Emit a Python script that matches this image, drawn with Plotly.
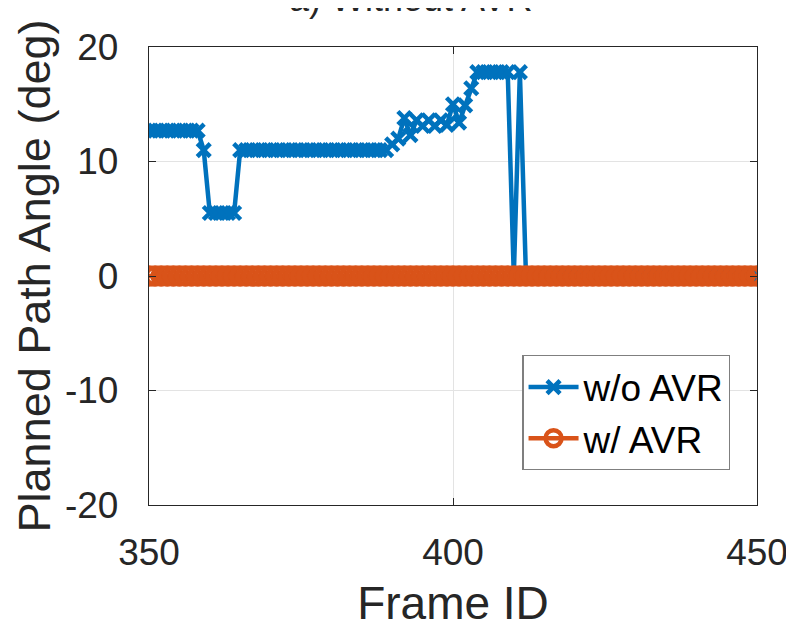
import plotly.graph_objects as go

frames = list(range(350, 451))

wo_avr = ([12.7] * 9 + [11.0] + [5.5] * 5 + [11.0] * 25 +
          [11.5, 12.0, 13.8, 12.3, 13.6, 13.1, 13.6, 13.1, 13.6, 13.2, 15.0, 13.4, 14.9, 16.4] +
          [17.8] * 6 + [0.0, 17.8] + [0.0] * 39)
w_avr = [0.0] * 101

x_ticks = [350, 400, 450]
y_ticks = [-20, -10, 0, 10, 20]
y_tick_text = ["-20", "-10", "0", "10", "20"]

BLUE = "#0072BD"
ORANGE = "#D95319"
DARK = "#262626"
FONT = "Liberation Sans, Arial, sans-serif"

fig = go.Figure()
fig.add_trace(go.Scatter(
    x=frames, y=wo_avr, name="w/o AVR", mode="lines+markers",
    line=dict(color=BLUE, width=4.5),
    marker=dict(symbol="x-thin", size=13, line=dict(color=BLUE, width=4.5)),
))
fig.add_trace(go.Scatter(
    x=frames, y=w_avr, name="w/ AVR", mode="lines+markers",
    line=dict(color=ORANGE, width=4.5),
    marker=dict(symbol="circle-open", size=17, color=ORANGE, line=dict(color=ORANGE, width=4.5)),
))

axis_common = dict(
    showline=True, linecolor=DARK, linewidth=1.3, mirror="allticks",
    ticks="inside", ticklen=7, tickwidth=1.3, tickcolor=DARK,
    showgrid=True, gridcolor="#E3E3E3", gridwidth=1, zeroline=False,
    tickfont=dict(family=FONT, size=37, color=DARK), automargin=False,
)

fig.update_xaxes(range=[350, 450], tickvals=x_ticks, ticklabelstandoff=14,
                 title=dict(text="Frame ID", font=dict(family=FONT, size=46, color=DARK), standoff=16),
                 **axis_common)
fig.update_yaxes(range=[-20, 20], tickvals=y_ticks, ticktext=y_tick_text, ticklabelstandoff=22,
                 title=dict(text="Planned Path Angle (deg)", font=dict(family=FONT, size=45, color=DARK), standoff=0),
                 **axis_common)

fig.add_annotation(text="a) Without AVR", xref="paper", yref="paper", x=0.43, y=1,
                   xanchor="center", yanchor="bottom", yshift=26, showarrow=False,
                   font=dict(family=FONT, size=36, color=DARK))

# page body has an 8px margin, so the figure is sized to fit the 794x629 window
fig.update_layout(
    width=786, height=621,
    margin=dict(l=141, r=37, t=39, b=124),
    plot_bgcolor="white", paper_bgcolor="white",
    showlegend=True,
    legend=dict(x=0.956, y=0.076, xanchor="right", yanchor="bottom",
                bgcolor="white", bordercolor="#7F7F7F", borderwidth=1.3,
                font=dict(family=FONT, size=37, color="black"),
                tracegroupgap=0, itemwidth=50),
)

fig.write_html("out.html")
